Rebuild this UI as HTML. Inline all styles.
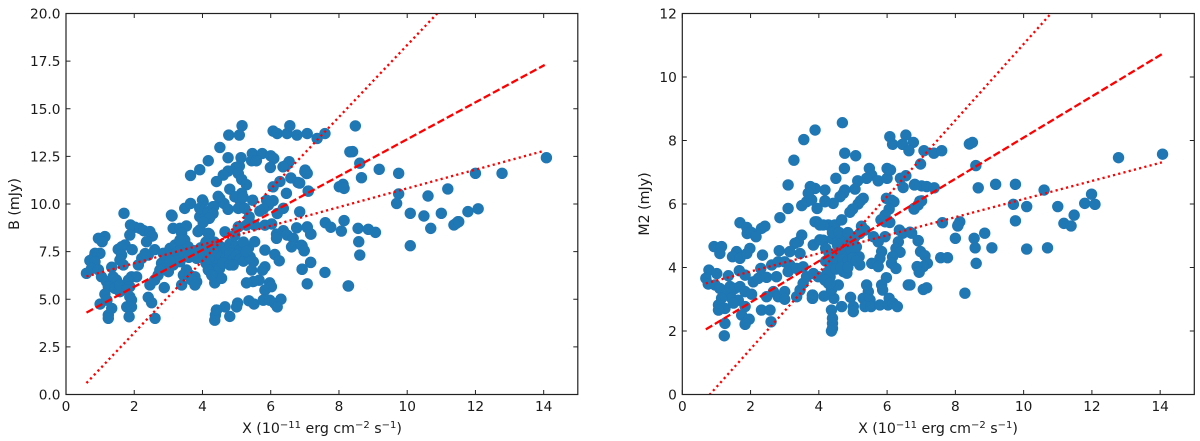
<!DOCTYPE html>
<html lang="en">
<head>
<meta charset="utf-8">
<title>X-ray versus B and M2 flux scatter plots</title>
<style>
html,body{margin:0;padding:0;background:#fff;width:1200px;height:441px;overflow:hidden}
svg{display:block}
text{font-family:"DejaVu Sans","Liberation Sans",sans-serif;font-size:13.7px;fill:#1a1a1a}
text.axis-title{font-size:14.2px}
</style>
</head>
<body>
<svg id="figure" xmlns="http://www.w3.org/2000/svg" width="1200" height="441" viewBox="0 0 1200 441">
<defs>
<clipPath id="clip-b"><rect x="66" y="13.5" width="511.8" height="381"/></clipPath>
<clipPath id="clip-m2"><rect x="682.3" y="13.5" width="512" height="381"/></clipPath>
</defs>
<g id="panel-b"></g>
<g id="panel-m2"></g>
<text class="axis-title" x="322" y="433" text-anchor="middle">X (10<tspan dy="-5" font-size="10">−11</tspan><tspan dy="5"> erg cm</tspan><tspan dy="-5" font-size="10">−2</tspan><tspan dy="5"> s</tspan><tspan dy="-5" font-size="10">−1</tspan><tspan dy="5">)</tspan></text>
<text class="axis-title" x="938" y="433" text-anchor="middle">X (10<tspan dy="-5" font-size="10">−11</tspan><tspan dy="5"> erg cm</tspan><tspan dy="-5" font-size="10">−2</tspan><tspan dy="5"> s</tspan><tspan dy="-5" font-size="10">−1</tspan><tspan dy="5">)</tspan></text>
<text class="axis-title" transform="translate(19,204) rotate(-90)" text-anchor="middle">B (mJy)</text>
<text class="axis-title" transform="translate(649,204) rotate(-90)" text-anchor="middle">M2 (mJy)</text>
</svg>
<script>
const xTickValues = [0, 2, 4, 6, 8, 10, 12, 14];
const bTickValues = [0, 2.5, 5, 7.5, 10, 12.5, 15, 17.5, 20];
const bTickLabels = ['0.0', '2.5', '5.0', '7.5', '10.0', '12.5', '15.0', '17.5', '20.0'];
const m2TickValues = [0, 2, 4, 6, 8, 10, 12];
const m2TickLabels = ['0', '2', '4', '6', '8', '10', '12'];

const bFitX = [0.6, 14.03];
const bFitMid = [4.3, 17.3];
const bFitUpper = [0.6, 25.95];
const bFitLower = [6.2, 12.8];
const m2FitX = [0.69, 14.05];
const m2FitMid = [2.05, 10.72];
const m2FitUpper = [-0.14, 15.9];
const m2FitLower = [3.5, 7.31];

const scatterB = [
[5.16,14.11],[4.77,13.62],[5.08,13.62],[4.51,12.97],[4.17,12.27],[4.75,12.43],[5.13,12.43],[5.46,12.65],[5.75,12.65],[6.0,12.53],[6.09,12.39],[5.44,12.27],[5.58,12.27],[5.08,11.99],[4.98,11.92],[4.75,11.73],[4.61,11.52],[4.41,11.18],[5.05,11.6],[5.15,11.29],[5.29,11.01],[3.92,11.8],[3.65,11.5],
[6.07,13.83],[6.19,13.7],[6.48,13.7],[6.56,14.11],[6.77,13.62],[7.07,13.7],[7.36,13.44],[7.59,13.7],[8.48,14.1],[8.32,12.74],[6.54,12.22],[6.46,12.04],[6.36,11.95],[5.99,11.92],[7.01,11.78],[7.05,11.6],[6.59,11.37],[6.8,11.13],[6.27,11.18],[6.07,10.9],[6.46,10.56],[7.1,10.68],
[4.8,10.78],[5.15,10.56],[4.95,10.38],[5.1,10.2],[5.19,10.35],[4.51,10.29],[4.63,10.03],[4.75,9.72],[5.05,9.77],[5.24,9.77],[5.47,10.2],[5.88,10.2],[6.07,10.17],[5.93,9.94],[5.78,9.73],[5.68,9.63],[6.19,9.5],[6.37,9.77],[6.85,9.59],[4.02,10.12],[4.33,9.86],[4.3,9.5],[4.22,9.33],[4.02,9.5],[3.92,9.33],[5.37,9.33],[5.05,8.8],[5.29,8.89],[5.53,8.89],[5.83,8.89],[6.03,8.95],[4.66,8.54],[4.2,8.42],[3.93,8.65],[4.95,8.37],
[6.37,8.6],[6.17,8.42],[6.17,8.2],[6.48,8.37],[6.66,8.2],[6.61,7.75],[6.76,8.75],[7.07,8.8],[7.18,8.42],[6.9,7.84],[6.98,7.55],[6.12,7.35],[6.25,7.02],[7.17,6.93],[6.92,6.58],[7.59,6.41],[7.07,5.81],[8.27,5.7],
[5.97,5.86],[6.02,5.66],[5.83,5.48],[5.66,6.0],[5.49,5.93],[5.29,5.86],[5.83,6.7],[5.76,6.53],[5.49,6.97],[5.44,6.53],[5.36,4.92],[5.51,4.75],[5.78,4.95],[5.97,4.95],[6.12,4.78],[6.3,5.0],[6.19,4.6],[5.03,4.8],[5.0,4.6],[4.66,4.6],[4.8,4.1],[4.41,4.43],[4.38,4.17],[4.36,3.9],
[4.5,7.8],[4.6,7.5],[4.7,7.7],[4.8,7.9],[4.9,7.6],[5.0,7.8],[5.1,7.6],[5.2,7.5],[5.3,7.4],[4.5,7.2],[4.6,7.0],[4.7,7.2],[4.8,7.4],[4.9,7.1],[5.0,7.3],[5.1,7.1],[5.2,7.0],[4.4,7.4],[4.3,6.9],[4.4,6.6],[4.2,7.2],[4.1,6.9],[4.2,6.5],[4.3,6.3],[4.35,6.1],[4.5,6.6],[4.6,6.9],[4.8,6.8],[4.9,6.8],[4.15,7.7],[4.1,8.0],[4.3,7.6],[4.35,8.0],[5.35,7.7],[5.2,8.0],[4.05,7.4],[5.4,7.2],[5.53,8.02],[5.83,7.58],[5.39,7.23],[5.29,7.5],[4.36,5.86],[4.56,6.1],[4.17,6.54],[4.27,6.27],
[1.7,9.51],[0.95,8.2],[1.14,8.29],[1.06,8.02],[1.89,8.9],[2.02,8.78],[2.17,8.72],[2.28,8.6],[2.46,8.55],[2.53,8.32],[1.87,8.37],[2.36,8.02],[1.53,7.62],[1.73,7.85],[1.63,7.75],[1.94,7.6],[0.85,7.41],[0.995,7.41],[0.8,7.15],[0.7,7.03],[0.85,6.97],[0.6,6.36],[0.75,6.62],[0.95,6.55],[1.63,7.32],[1.58,7.06],[1.68,6.8],[1.34,6.68],
[1.04,6.18],[1.19,5.92],[1.34,5.84],[1.48,6.01],[1.38,6.18],[1.24,5.66],[1.43,5.57],[1.58,5.4],[1.58,5.75],[1.14,5.27],[1.0,4.75],[1.2,4.95],[1.34,4.52],[1.24,4.17],[1.24,4.0],[1.92,6.18],[2.07,6.18],[1.83,6.01],[1.87,5.66],[1.78,5.5],[1.87,5.13],[1.92,4.96],[1.78,4.6],[1.92,4.6],[1.85,4.08],
[2.12,6.8],[2.22,7.15],[2.41,7.32],[2.6,7.6],[2.32,7.4],[2.46,5.75],[2.6,6.01],[2.7,6.27],[2.88,5.61],[2.41,5.1],[2.51,4.82],[2.61,4.0],[2.85,7.41],[3.05,7.67],[3.2,7.85],[2.8,6.89],[2.95,6.71],[3.0,6.45],[2.75,6.53],[3.14,6.8],[3.34,6.97],[3.39,7.76],[3.09,9.42],[3.14,8.72],[3.34,8.72],[3.53,8.85],[3.39,8.46],[3.48,8.11],[3.58,7.76],[3.34,8.11],
[2.95,7.15],[3.1,7.3],[3.25,7.45],[3.45,7.4],[3.6,7.2],[3.75,7.55],[3.95,7.7],[3.9,7.3],[3.2,7.0],[3.05,7.0],
[3.48,9.77],[3.65,10.03],[4.0,10.21],[3.92,9.77],[4.17,9.6],[4.31,9.86],[4.46,10.4],[4.31,9.5],[4.2,9.25],[4.02,9.04],[3.87,8.55],[4.17,8.46],[3.83,7.15],[3.73,7.32],[3.53,6.54],[3.44,6.27],[3.39,5.75],[3.63,6.27],[3.78,6.18],[3.83,5.92],[3.68,6.01],[3.78,5.75],[3.11,9.37],[4.41,4.43],
[7.0,11.7],[7.07,11.61],[6.85,11.1],[7.1,10.68],[8.01,10.91],[8.12,11.03],[8.15,10.82],[8.4,12.75],[8.61,12.14],[8.66,11.38],[9.18,11.82],[9.75,11.61],[9.75,10.53],[9.69,10.03],[11.19,10.79],[10.61,10.42],[10.09,9.51],[10.49,9.37],[11.0,9.51],[11.78,9.6],[12.08,9.75],[12.0,11.61],[12.78,11.61],[14.08,12.43],[11.49,9.07],[7.6,9.02],[7.76,8.78],[8.15,9.13],[8.07,8.58],[8.56,8.72],[8.86,8.67],[9.07,8.51],[8.58,8.02],[8.61,7.32],[10.09,7.81],[10.69,8.72],[11.37,8.9],[11.44,8.99],[11.51,9.07],[7.17,8.42],[7.07,8.77],[6.92,7.8],[6.98,7.55],[7.17,6.94],[6.92,6.57],[8.28,5.7]
];

const scatterM2 = [
[4.69,8.56],[3.89,8.33],[3.56,8.03],[3.27,7.38],[6.08,8.12],[6.16,7.88],[6.55,8.17],[6.45,7.88],[6.77,7.94],[6.64,7.68],[4.76,7.6],[5.08,7.52],[7.08,7.68],[7.37,7.6],[7.6,7.68],[6.98,7.26],[4.75,7.12],[4.5,6.81],[5.48,7.12],[5.55,6.91],[5.4,6.81],[5.14,6.73],[5.06,6.47],[4.76,6.44],[4.72,6.34],[4.62,6.23],[4.42,6.02],[4.18,6.1],[4.18,6.44],[3.89,6.49],[3.75,6.55],[3.1,6.6],
[5.74,6.73],[6.0,6.81],[6.0,7.12],[6.1,7.07],[6.39,6.81],[6.55,6.89],[6.47,6.52],[6.81,6.62],[7.01,6.57],[7.16,6.55],[7.38,6.51],[5.3,6.18],[5.22,6.1],[5.15,6.0],[4.99,5.84],[4.91,5.74],[5.98,6.18],[6.13,6.12],[6.2,6.07],[6.06,5.84],[5.94,5.65],[5.82,5.5],[6.08,5.42],[7.01,6.1],[6.91,5.97],[6.79,5.84],[7.62,5.41],[8.08,5.34],[8.0,4.92],[8.13,5.44],
[6.36,5.18],[6.67,5.11],[6.46,5.08],[6.91,4.84],[6.33,4.81],[6.26,4.6],[6.38,4.48],[6.16,4.34],[6.13,4.13],[6.26,3.97],[6.98,4.5],[7.11,4.37],[7.18,4.13],[7.06,4.03],[6.88,4.03],[6.94,3.85],[7.57,4.31],[7.77,4.31],[6.62,3.45],[7.06,3.31],[7.16,3.36],[5.98,3.68],[5.84,3.45],[5.87,3.29],
[5.4,3.45],[5.45,3.24],[5.3,3.03],[5.5,2.98],[5.35,2.77],[5.53,2.77],[5.79,2.82],[6.06,3.03],[6.03,2.82],[6.18,2.87],[6.3,2.77],[4.93,3.06],[5.01,2.77],[5.01,2.61],[4.67,2.77],[4.44,3.03],[4.15,3.1],[3.82,3.13],[3.82,3.03],[4.37,2.66],[4.4,2.4],[4.4,2.24],[4.4,2.08],[4.37,2.0],
[5.94,4.97],[5.74,4.81],[5.25,5.3],[5.94,5.44],[5.06,4.97],[5.2,5.07],[5.35,5.18],[5.6,4.97],[5.84,4.5],[5.79,4.29],[5.55,4.13],[5.74,4.03],[5.18,4.34],[5.2,4.08],[4.72,3.87],[4.82,3.82],[4.13,4.86],[3.84,4.71],[4.28,5.34],[4.47,5.34],[4.67,5.5],[3.94,5.44],[4.13,5.34],[4.18,3.66],[4.33,3.71],[4.28,3.5],[4.42,3.4],[4.37,3.29],[4.57,3.45],
[4.4,4.9],[4.55,4.7],[4.7,4.9],[4.85,4.75],[5.0,4.9],[4.5,4.4],[4.65,4.5],[4.8,4.45],[4.95,4.55],[5.1,4.65],[4.4,4.15],[4.55,4.2],[4.7,4.25],[4.85,4.2],[5.0,4.3],[5.1,4.2],[4.3,4.45],[4.2,4.2],[4.35,3.95],[4.25,3.85],[4.5,3.95],[4.65,4.0],[4.85,4.0],[4.2,4.6],[4.4,5.1],[4.6,5.1],[4.85,5.1],
[3.1,5.86],[2.86,5.57],[3.5,5.95],[3.64,6.07],[3.79,6.13],[3.69,6.34],[3.95,5.86],[4.18,6.07],[1.69,5.41],[1.89,5.26],[1.9,5.07],[2.03,5.1],[2.16,4.97],[2.32,5.23],[2.42,5.3],[3.89,5.44],[4.03,5.34],[3.5,5.02],[3.4,4.81],[3.3,4.76],[3.84,4.71],[4.03,4.87],[0.93,4.66],[1.15,4.66],[1.1,4.44],[1.59,4.5],[1.47,4.34],[1.69,4.29],[1.98,4.6],[1.89,4.44],[2.35,4.39],[2.84,4.53],[3.15,4.5],[3.45,4.44],
[0.78,3.92],[1.01,3.81],[0.69,3.66],[0.76,3.48],[0.96,3.45],[1.35,3.74],[1.67,3.9],[1.84,3.76],[1.1,3.34],[1.4,3.4],[1.54,3.34],[1.69,3.4],[1.3,3.18],[1.84,3.24],[2.03,3.16],[1.45,3.03],[1.64,2.97],[1.15,3.03],[1.06,2.82],[1.25,2.71],[1.06,2.66],[1.5,2.88],[1.84,2.77],[1.74,2.5],[1.96,2.37],[1.84,2.21],[1.25,2.24],[1.23,1.85],[2.32,2.66],[2.57,2.66],[2.6,2.29],
[2.08,3.55],[2.23,3.66],[2.47,3.69],[2.76,3.71],[2.3,3.97],[2.62,4.08],[2.81,4.18],[3.0,4.18],[3.15,4.08],[3.1,3.87],[3.35,3.97],[3.54,4.02],[2.47,3.08],[2.67,3.24],[2.81,3.08],[3.0,3.24],[3.0,3.0],[3.35,3.08],[3.45,3.29],[3.54,3.5],[3.64,3.71],[3.84,3.81],[3.81,3.13],[3.81,3.03],[3.98,3.71],[4.18,3.6],[4.33,3.5],
[8.41,7.89],[8.5,7.94],[8.6,7.21],[6.8,6.6],[8.67,6.51],[9.18,6.62],[9.76,6.62],[10.6,6.44],[11.99,6.31],[11.79,6.02],[12.09,5.99],[11.0,5.92],[11.48,5.65],[10.09,5.92],[9.7,5.99],[6.96,6.09],[6.79,5.86],[12.78,7.46],[14.07,7.57],[9.76,5.47],[11.18,5.39],[11.39,5.31],[8.07,5.31],[8.86,5.08],[8.55,4.92],[8.58,4.62],[9.07,4.62],[10.09,4.58],[10.7,4.62],[8.61,4.13],[8.28,3.19],[6.91,4.85],[6.72,5.08],[6.67,3.45]
];

const SVG_NS = 'http://www.w3.org/2000/svg';

function make(parent, tag, attrs) {
  const el = document.createElementNS(SVG_NS, tag);
  for (const k in attrs) el.setAttribute(k, attrs[k]);
  parent.appendChild(el);
  return el;
}

function drawPanel(panelId, left, right, yMax, clipId, points, yTicks, yLabels, fitX, fitMid, fitUpper, fitLower) {
  const top = 13.5;
  const bottom = 394.5;
  const panel = document.getElementById(panelId);
  const sx = v => left + v / 15 * (right - left);
  const sy = v => bottom - v / yMax * (bottom - top);

  const marks = make(panel, 'g', {'clip-path': 'url(#' + clipId + ')'});
  
  

  points.forEach(p => {
    const c = make(marks, 'circle', {cx: sx(p[0]), cy: sy(p[1]), r: 5.7, fill: '#1f77b4'});
    
    
  });

  const addFit = (values, dash, name) => {
    const l = make(marks, 'line', {
      x1: sx(fitX[0]), y1: sy(values[0]), x2: sx(fitX[1]), y2: sy(values[1]),
      stroke: '#ff0000', 'stroke-width': 2.3, 'stroke-dasharray': dash
    });
    
    
  };
  addFit(fitMid, '7.5 3', 'best-fit-line');
  addFit(fitUpper, '2.2 3.2', 'upper-bound-line');
  addFit(fitLower, '2.2 3.2', 'lower-bound-line');

  xTickValues.forEach(v => {
    const x = sx(v);
    const t1 = make(panel, 'line', {x1: x, x2: x, y1: bottom, y2: bottom - 4.5, stroke: '#222', 'stroke-width': 1});
    
    
    const t2 = make(panel, 'line', {x1: x, x2: x, y1: top, y2: top + 4.5, stroke: '#222', 'stroke-width': 1});
    
    
    const lab = make(panel, 'text', {x: x, y: 411, 'text-anchor': 'middle'});
    lab.textContent = String(v);
    
    
  });

  yTicks.forEach((v, i) => {
    const y = sy(v);
    const t1 = make(panel, 'line', {x1: left, x2: left + 4.5, y1: y, y2: y, stroke: '#222', 'stroke-width': 1});
    
    
    const t2 = make(panel, 'line', {x1: right, x2: right - 4.5, y1: y, y2: y, stroke: '#222', 'stroke-width': 1});
    
    
    const lab = make(panel, 'text', {x: left - 5.5, y: y + 5, 'text-anchor': 'end'});
    lab.textContent = yLabels[i];
    
    
  });

  const frame = make(panel, 'rect', {x: left, y: top, width: right - left, height: bottom - top, fill: 'none', stroke: '#222', 'stroke-width': 1.2});
  
  
}

drawPanel('panel-b', 66, 577.8, 20, 'clip-b', scatterB, bTickValues, bTickLabels, bFitX, bFitMid, bFitUpper, bFitLower);
drawPanel('panel-m2', 682.3, 1194.3, 12, 'clip-m2', scatterM2, m2TickValues, m2TickLabels, m2FitX, m2FitMid, m2FitUpper, m2FitLower);
</script>
</body>
</html>
